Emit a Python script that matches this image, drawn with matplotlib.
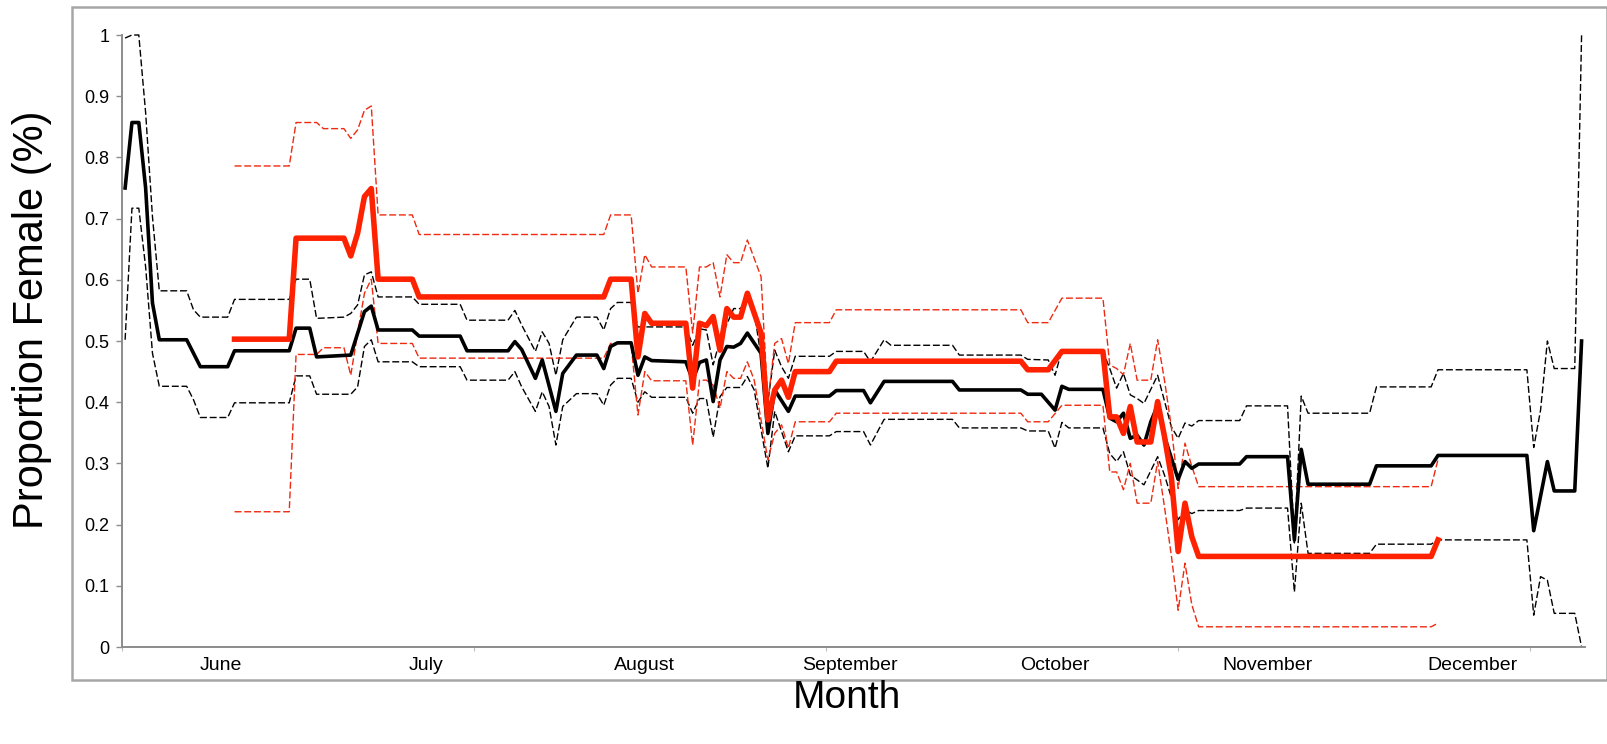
import matplotlib
matplotlib.use("Agg")
from matplotlib import pyplot as plt
from matplotlib.patches import Rectangle

plt.rcParams['font.family'] = ['Liberation Sans', 'DejaVu Sans']

# day index (0 = first sampled day) and proportion female
all_days = [0, 1, 2, 3, 4, 5, 9, 11, 15, 16, 24, 25, 27, 28, 33, 35, 36, 37, 42, 43,
            49, 50, 56, 57, 58, 60, 61, 63, 64, 66, 69, 70, 71, 72, 74, 75, 76, 77, 82, 83,
            84, 85, 86, 87, 88, 89, 90, 91, 93, 94, 95, 97, 98, 103, 104, 108, 109, 111, 121, 122,
            131, 132, 134, 136, 137, 138, 143, 144, 145, 146, 147, 148, 149, 150, 151, 152, 154, 155, 156, 157,
            163, 164, 170, 171, 172, 173, 182, 183, 191, 192, 205, 206, 208, 209, 212, 213]
all_mean = [0.75, 0.857, 0.857, 0.75, 0.562, 0.502, 0.502, 0.458, 0.458, 0.484, 0.484, 0.521, 0.521, 0.474, 0.477, 0.548, 0.557, 0.518, 0.518, 0.508,
            0.508, 0.484, 0.484, 0.499, 0.486, 0.439, 0.469, 0.385, 0.447, 0.477, 0.477, 0.455, 0.491, 0.497, 0.497, 0.444, 0.474, 0.468, 0.466, 0.436,
            0.465, 0.469, 0.401, 0.469, 0.491, 0.49, 0.496, 0.513, 0.48, 0.349, 0.42, 0.385, 0.41, 0.41, 0.419, 0.419, 0.399, 0.434, 0.434, 0.42,
            0.42, 0.413, 0.413, 0.387, 0.426, 0.421, 0.421, 0.374, 0.368, 0.382, 0.341, 0.346, 0.33, 0.368, 0.395, 0.344, 0.274, 0.303, 0.292, 0.299,
            0.299, 0.311, 0.311, 0.175, 0.323, 0.266, 0.266, 0.296, 0.296, 0.313, 0.313, 0.19, 0.303, 0.255, 0.255, 0.5]

all_up_days = [0, 1, 2, 3, 4, 5, 9, 10, 11, 15, 16, 24, 25, 27, 28, 32, 33, 34, 35, 36,
               37, 42, 43, 49, 50, 56, 57, 58, 60, 61, 62, 63, 64, 66, 69, 70, 71, 72, 74, 75,
               82, 83, 84, 85, 86, 87, 89, 90, 91, 92, 94, 95, 96, 97, 98, 103, 104, 108, 109, 111,
               112, 121, 122, 131, 132, 135, 136, 137, 143, 144, 145, 146, 147, 148, 149, 151, 153, 154, 155, 156,
               157, 163, 164, 170, 171, 172, 173, 182, 183, 191, 192, 205, 206, 207, 208, 209, 212, 213]
all_upper = [0.995, 1.0, 1.0, 0.873, 0.703, 0.582, 0.582, 0.551, 0.539, 0.539, 0.568, 0.568, 0.601, 0.601, 0.537, 0.539, 0.545, 0.559, 0.608, 0.613,
             0.572, 0.572, 0.56, 0.56, 0.534, 0.534, 0.55, 0.526, 0.483, 0.515, 0.496, 0.444, 0.502, 0.539, 0.539, 0.518, 0.553, 0.563, 0.563, 0.523,
             0.523, 0.493, 0.52, 0.518, 0.461, 0.502, 0.553, 0.553, 0.572, 0.548, 0.40, 0.485, 0.458, 0.439, 0.475, 0.475, 0.483, 0.483, 0.466, 0.502,
             0.493, 0.493, 0.477, 0.477, 0.47, 0.469, 0.444, 0.485, 0.483, 0.455, 0.423, 0.447, 0.412, 0.406, 0.398, 0.444, 0.36, 0.341, 0.366, 0.361,
             0.37, 0.37, 0.394, 0.394, 0.17, 0.41, 0.382, 0.382, 0.425, 0.425, 0.453, 0.453, 0.326, 0.387, 0.5, 0.455, 0.455, 1.0]

all_lo_days = [0, 1, 2, 3, 4, 5, 9, 10, 11, 15, 16, 24, 25, 27, 28, 33, 34, 35, 36, 37,
               42, 43, 49, 50, 56, 57, 58, 60, 61, 62, 63, 64, 66, 69, 70, 71, 72, 74, 75, 76,
               77, 82, 83, 84, 85, 86, 87, 88, 90, 91, 92, 94, 95, 97, 98, 103, 104, 108, 109, 111,
               121, 122, 131, 132, 135, 136, 137, 138, 143, 144, 145, 146, 147, 149, 151, 152, 154, 155, 156, 157,
               163, 164, 170, 171, 172, 173, 182, 183, 191, 192, 205, 206, 207, 208, 209, 212, 213]
all_lower = [0.502, 0.717, 0.717, 0.621, 0.48, 0.426, 0.426, 0.404, 0.375, 0.375, 0.399, 0.399, 0.443, 0.443, 0.413, 0.413, 0.425, 0.491, 0.502, 0.466,
             0.466, 0.458, 0.458, 0.436, 0.436, 0.45, 0.425, 0.385, 0.417, 0.393, 0.33, 0.393, 0.414, 0.414, 0.395, 0.428, 0.439, 0.439, 0.40, 0.417,
             0.408, 0.408, 0.382, 0.406, 0.406, 0.343, 0.409, 0.424, 0.424, 0.442, 0.42, 0.292, 0.385, 0.319, 0.345, 0.345, 0.352, 0.352, 0.33, 0.372,
             0.372, 0.358, 0.358, 0.353, 0.353, 0.325, 0.367, 0.358, 0.358, 0.316, 0.303, 0.319, 0.281, 0.265, 0.311, 0.281, 0.208, 0.224, 0.218, 0.223,
             0.223, 0.227, 0.227, 0.09, 0.235, 0.153, 0.153, 0.168, 0.168, 0.175, 0.175, 0.052, 0.115, 0.109, 0.055, 0.055, 0.0]

red_days = [16, 24, 25, 32, 33, 34, 35, 36, 37, 42, 43, 70, 71, 74, 75, 76, 77, 82, 83, 84,
            85, 86, 87, 88, 89, 90, 91, 93, 94, 95, 96, 97, 98, 103, 104, 131, 132, 135, 137, 143,
            144, 145, 146, 147, 148, 150, 151, 152, 153, 154, 155, 156, 157, 191, 192]
red_mean = [0.503, 0.503, 0.668, 0.668, 0.639, 0.676, 0.736, 0.749, 0.601, 0.601, 0.572, 0.572, 0.601, 0.601, 0.474, 0.545, 0.529, 0.529, 0.423, 0.529,
            0.525, 0.54, 0.485, 0.553, 0.539, 0.539, 0.578, 0.513, 0.371, 0.42, 0.436, 0.408, 0.45, 0.45, 0.467, 0.467, 0.453, 0.453, 0.483, 0.483,
            0.376, 0.376, 0.349, 0.393, 0.335, 0.335, 0.401, 0.344, 0.278, 0.156, 0.235, 0.18, 0.148, 0.148, 0.175]

red_up_days = [16, 24, 25, 28, 29, 32, 33, 34, 35, 36, 37, 42, 43, 70, 71, 74, 75, 76, 77, 82,
               83, 84, 85, 86, 87, 88, 89, 90, 91, 93, 94, 95, 96, 97, 98, 103, 104, 131, 132, 135,
               137, 143, 144, 145, 146, 147, 148, 150, 151, 152, 153, 154, 155, 156, 157, 191, 192]
red_upper = [0.786, 0.786, 0.857, 0.857, 0.847, 0.847, 0.831, 0.845, 0.877, 0.884, 0.706, 0.706, 0.674, 0.674, 0.706, 0.706, 0.578, 0.641, 0.621, 0.621,
             0.513, 0.621, 0.621, 0.628, 0.572, 0.641, 0.628, 0.628, 0.665, 0.605, 0.40, 0.496, 0.504, 0.463, 0.53, 0.53, 0.551, 0.551, 0.53, 0.53,
             0.57, 0.57, 0.461, 0.455, 0.445, 0.496, 0.436, 0.436, 0.502, 0.436, 0.36, 0.259, 0.333, 0.295, 0.262, 0.262, 0.306]

red_lo_days = [16, 24, 25, 28, 29, 32, 33, 34, 35, 36, 37, 42, 43, 70, 71, 74, 75, 76, 77, 82,
               83, 84, 85, 86, 87, 88, 89, 90, 91, 92, 94, 95, 96, 97, 98, 103, 104, 131, 132, 135,
               137, 143, 144, 145, 146, 147, 148, 150, 151, 152, 153, 154, 155, 156, 157, 191, 192]
red_lower = [0.221, 0.221, 0.478, 0.478, 0.489, 0.489, 0.444, 0.513, 0.578, 0.601, 0.496, 0.496, 0.472, 0.472, 0.496, 0.496, 0.379, 0.45, 0.435, 0.435,
             0.33, 0.436, 0.436, 0.428, 0.39, 0.45, 0.439, 0.439, 0.466, 0.436, 0.306, 0.349, 0.363, 0.325, 0.368, 0.368, 0.382, 0.382, 0.368, 0.368,
             0.395, 0.395, 0.286, 0.286, 0.257, 0.30, 0.235, 0.235, 0.303, 0.229, 0.15, 0.06, 0.137, 0.069, 0.033, 0.033, 0.039]

months = ["June", "July", "August", "September", "October", "November", "December"]
month_days = [14, 44, 76, 106, 136, 167, 197]
axis_tick_days = [-0.5, 51, 102.5, 154, 205.5]
y_ticks = [0, 0.1, 0.2, 0.3, 0.4, 0.5, 0.6, 0.7, 0.8, 0.9, 1]
y_tick_labels = ["0", "0.1", "0.2", "0.3", "0.4", "0.5", "0.6", "0.7", "0.8", "0.9", "1"]

W, H = 1608, 744
fig = plt.figure(figsize=(W / 100, H / 100), dpi=100)
ax = fig.add_axes([121.7 / W, 97 / H, 1463.3 / W, 612 / H])

# outer chart frame
fig.patches.append(Rectangle((72 / W, (H - 680) / H), (1607 - 72) / W, (680 - 7) / H,
                             transform=fig.transFigure, fill=False,
                             edgecolor='#a6a6a6', lw=1.8))

red = '#ff2200'
dash = (0, (5, 2))
ax.plot(all_up_days, all_upper, color='black', lw=1.0, ls=dash, clip_on=False)
ax.plot(all_lo_days, all_lower, color='black', lw=1.0, ls=dash, clip_on=False)
ax.plot(red_up_days, red_upper, color='#ee2a10', lw=1.0, ls=dash, clip_on=False)
ax.plot(red_lo_days, red_lower, color='#ee2a10', lw=1.0, ls=dash, clip_on=False)
ax.plot(all_days, all_mean, color='black', lw=2.6, clip_on=False)
ax.plot(red_days, red_mean, color=red, lw=4.0, clip_on=False)

ax.set_xlim(-0.5, 213.5)
ax.set_ylim(0, 1)
for side in ['top', 'right']:
    ax.spines[side].set_visible(False)
for side in ['left', 'bottom']:
    ax.spines[side].set_color('#8c8c8c')
    ax.spines[side].set_linewidth(1.4)

ax.set_yticks(y_ticks)
ax.set_yticklabels(y_tick_labels)
ax.tick_params(axis='y', direction='out', length=4, width=1, color='#8c8c8c',
               labelsize=13, pad=5)
ax.set_xticks(month_days)
ax.set_xticklabels(months)
ax.tick_params(axis='x', which='major', length=0, labelsize=14, pad=7)
ax.set_xticks(axis_tick_days, minor=True)
ax.tick_params(axis='x', which='minor', direction='out', length=3, width=0.8,
               color='#bdbdbd')

fig.text(32 / W, 1 - 320 / H, "Proportion Female (%)", rotation=90,
         ha='center', va='center', fontsize=30)
fig.text(847 / W, 1 - 698 / H, "Month", ha='center', va='center', fontsize=28)

fig.savefig("out.png", dpi=100)
